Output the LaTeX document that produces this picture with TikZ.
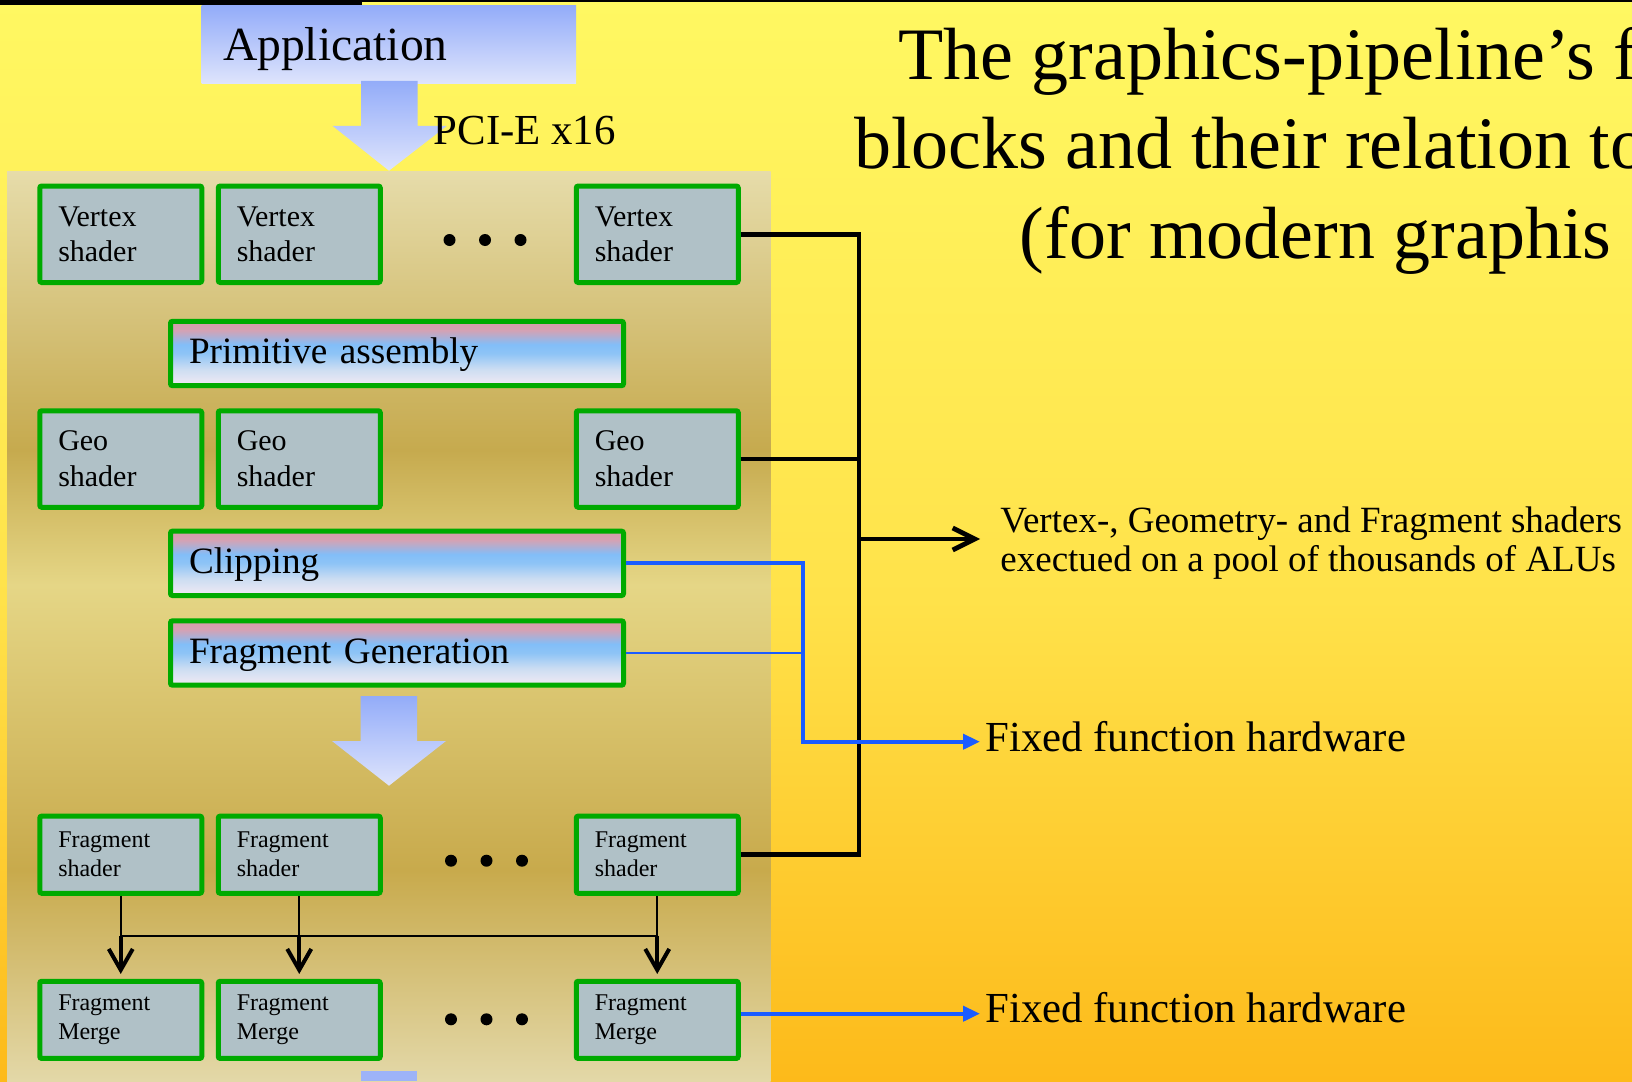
\documentclass[tikz,border=0pt]{standalone}
\usepackage{fontspec}
\setmainfont{Liberation Serif}
\usetikzlibrary{arrows.meta}

% slide background
\definecolor{bgTop}{HTML}{FFF862}
\definecolor{bgMid}{HTML}{FFE24A}
\definecolor{bgBot}{HTML}{FDBA1A}
% GPU panel bands
\definecolor{panA}{HTML}{E6DCAA}
\definecolor{panB}{HTML}{C6AA4E}
\definecolor{panC}{HTML}{E5D686}
\definecolor{panD}{HTML}{C8AA4C}
\definecolor{panE}{HTML}{E3D8A8}
% fixed-function stage fill
\definecolor{pipePink}{HTML}{D89CA8}
\definecolor{pipePinkB}{HTML}{D4A2B4}
\definecolor{pipeBlue}{HTML}{82BEF8}
\definecolor{pipeBlueB}{HTML}{8EC4F6}
\definecolor{pipeLight}{HTML}{CCDDF2}
\definecolor{pipeWhite}{HTML}{F2EAF4}
% block arrows and application box
\definecolor{appTop}{HTML}{93ACF9}
\definecolor{appBot}{HTML}{DEE4FC}
\definecolor{stubBlue}{HTML}{9DB3F8}
% units and wires
\definecolor{boxGreen}{HTML}{00AA00}
\definecolor{boxFill}{HTML}{B0C1C7}
\definecolor{wireBlue}{HTML}{1A5CFF}

\pgfdeclareverticalshading{bgShade}{100bp}{color(0bp)=(bgBot); color(25bp)=(bgBot); color(47.25bp)=(bgMid); color(75bp)=(bgTop); color(100bp)=(bgTop)}
\pgfdeclareverticalshading{panelShade}{100bp}{color(0bp)=(panE); color(25bp)=(panE); color(36.6bp)=(panD); color(52.25bp)=(panC); color(59.67bp)=(panB); color(75bp)=(panA); color(100bp)=(panA)}
\pgfdeclareverticalshading{pipeShade}{100bp}{color(0bp)=(pipeWhite); color(25bp)=(pipeWhite); color(38bp)=(pipeLight); color(50bp)=(pipeBlueB); color(57bp)=(pipeBlue); color(68bp)=(pipePinkB); color(75bp)=(pipePink); color(100bp)=(pipePink)}

\begin{document}
\begin{tikzpicture}[x=0.5pt, y=-0.5pt,
  unitbox/.style={draw=boxGreen, line width=2.5pt, rounded corners=1pt, align=left, inner ysep=0pt},
  shaderbox/.style={unitbox, fill=boxFill, minimum width=81pt, minimum height=48.25pt,
    text width=62.5pt, inner xsep=9.25pt, font=\fontsize{15}{17.85}\selectfont},
  fragbox/.style={unitbox, fill=boxFill, minimum width=81pt, minimum height=38.6pt,
    text width=62.5pt, inner xsep=9.25pt, font=\fontsize{12}{14.5}\selectfont},
  stagebox/.style={unitbox, shade, shading=pipeShade, minimum width=226.5pt, minimum height=32.2pt,
    text width=208pt, inner xsep=9.25pt, text height=13.6pt, text depth=3.6pt,
    font=\fontsize{18.6}{22}\selectfont},
  appbox/.style={top color=appTop, bottom color=appBot, minimum width=187.15pt, minimum height=38.8pt,
    text width=165.85pt, inner xsep=10.65pt, inner ysep=0pt, text height=16.5pt, text depth=0pt,
    align=left, font=\fontsize{23.8}{28}\selectfont},
  flowarrow/.style={top color=appTop, bottom color=appBot, draw=none},
  wire/.style={line width=2.4pt, line join=miter},
  bluewire/.style={draw=wireBlue, line width=2pt},
  blueend/.style={-{Triangle[length=8.5pt,width=7.5pt]}},
  label/.style={anchor=base west, inner sep=0pt, font=\fontsize{21.4}{25}\selectfont},
  notetext/.style={anchor=west, inner xsep=10pt, inner ysep=0pt, align=left,
    font=\fontsize{18.5}{19.85}\selectfont},
  titletext/.style={anchor=base west, inner sep=0pt, font=\fontsize{37}{44}\selectfont}
]

% background and frame edge
\path[shade, shading=bgShade] (0,0) rectangle (1632,1081);
\useasboundingbox (0,0) rectangle (1632,1081);
\fill[black] (0,0) rectangle (362,5);
\fill[black] (362,0) rectangle (1632,2.3);

% GPU panel
\path[shade, shading=panelShade] (7,171) rectangle (770.7,1081);

% application and bus transfer
\node[appbox] (app) at (388.85,44.5) {Application};
\path[flowarrow] (361,81) -- (417.7,81) -- (417.7,126) -- (446.7,126) -- (389,170.7)
  -- (332.7,126) -- (361,126) -- cycle;
\node[label] (pcie) at (433.3,145) {PCI-E x16};

% vertex shaders
\node[shaderbox] (vs1) at (120.75,234.25) {Vertex\\shader};
\node[shaderbox] (vs2) at (299.25,234.25) {Vertex\\shader};
\node[shaderbox] (vs3) at (657.25,234.25) {Vertex\\shader};

\node[stagebox] (prim) at (397,353.5) {Primitive assembly};

% geometry shaders
\node[shaderbox] (gs1) at (120.75,459) {Geo\\shader};
\node[shaderbox] (gs2) at (299.25,459) {Geo\\shader};
\node[shaderbox] (gs3) at (657.25,459) {Geo\\shader};

\node[stagebox] (clip) at (397,563.35) {Clipping};
\node[stagebox] (fgen) at (397,653) {Fragment Generation};

\path[flowarrow] (360.7,696) -- (417,696) -- (417,741) -- (446,741) -- (389,785.7)
  -- (332,741) -- (360.7,741) -- cycle;

% fragment shaders and merge units
\node[fragbox] (fs1) at (120.75,854.7) {Fragment\\shader};
\node[fragbox] (fs2) at (299.25,854.7) {Fragment\\shader};
\node[fragbox] (fs3) at (657.25,854.7) {Fragment\\shader};
\node[fragbox] (fm1) at (120.75,1019.85) {Fragment\\Merge};
\node[fragbox] (fm2) at (299.25,1019.85) {Fragment\\Merge};
\node[fragbox] (fm3) at (657.25,1019.85) {Fragment\\Merge};

\fill[stubBlue] (360.7,1071) rectangle (417,1081);

% ellipses between units
\foreach \x in {449.5,485,520.5} {
  \fill (\x,240) circle (3pt);
  \fill (\x+1.5,860.7) circle (3pt);
  \fill (\x+1.5,1019.3) circle (3pt);
}

% shader outputs to merge units
\coordinate (bus) at (0,935.7);
\draw[line width=1pt] (fs1.south) -- (fs1.south |- bus) -- (fs3.south |- bus) -- (fs3.south);
\draw[line width=1pt] (fs2.south) -- (fs2.south |- bus);
\foreach \i in {1,2,3}
  \draw[line width=2pt, -{Straight Barb[length=10.5pt,width=12pt]}, shorten >=2.4pt]
    (fs\i.south |- bus) -- (fm\i.north);

% programmable units -> ALU pool
\coordinate (trunkTop) at (859,234.25);
\coordinate (trunkBot) at (859,854.7);
\coordinate (trunkOut) at (859,539);
\draw[wire] (vs3.east) -- (trunkTop) -- (trunkBot) -- (fs3.east);
\draw[wire] (gs3.east) -- (gs3.east -| trunkTop);
\node[notetext] (note) at (980,543.2)
  {Vertex-, Geometry- and Fragment shaders\\exectued on a pool of thousands of ALUs};
\draw[wire, -{Straight Barb[length=11pt,width=11pt]}] (trunkOut) -- (trunkOut -| note.west);

% fixed-function stages
\coordinate (blueX) at (802.7,0);
\coordinate (ffhIn) at (980,741.7);
\coordinate (ffhInB) at (980,1013.7);
\node[label] (ffh1) at (985,751) {Fixed function hardware};
\node[label] (ffh2) at (985,1022.7) {Fixed function hardware};
\draw[bluewire, blueend] (clip.east) -- (clip.east -| blueX) |- (ffhIn);
\draw[draw=wireBlue, line width=1pt] (fgen.east) -- (fgen.east -| blueX);
\draw[bluewire, blueend] (fm3.east |- ffhInB) -- (ffhInB);

% slide title
\begin{scope}
  \clip (0,0) rectangle (1632,1081);
  \node[titletext] (title1) at (897.7,80) {The graphics-pipeline’s f};
  \node[titletext] (title2) at (853.7,168.3) {blocks and their relation to};
  \node[titletext] (title3) at (1019.5,258.3) {(for modern graphis};
\end{scope}
\end{tikzpicture}
\end{document}
